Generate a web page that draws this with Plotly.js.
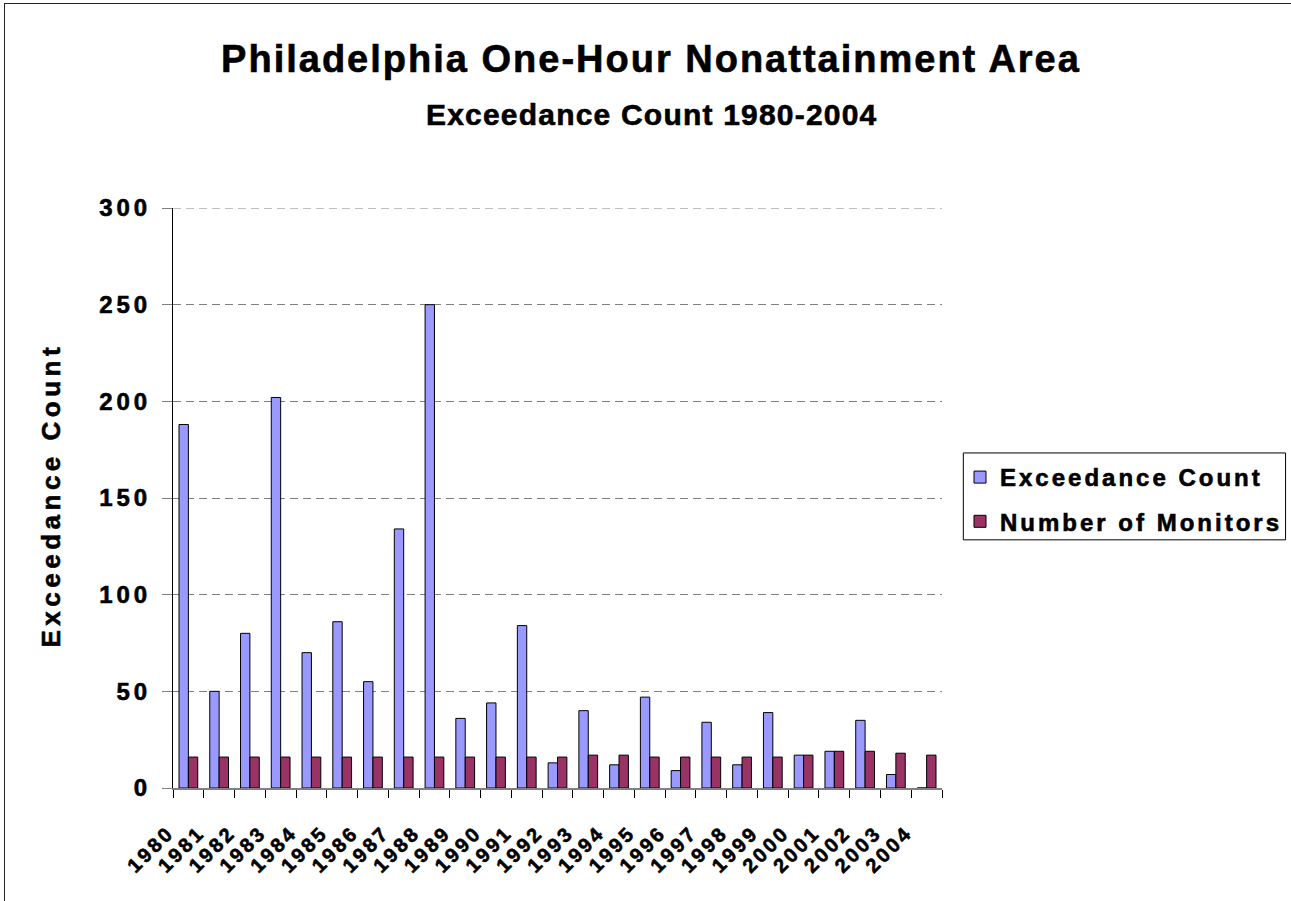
<!DOCTYPE html>
<html>
<head>
<meta charset="utf-8">
<script src="https://cdn.plot.ly/plotly-3.0.1.min.js"></script>
<style>
html,body{margin:0;padding:0;background:#fff;overflow:hidden;}
#chart{width:1291px;height:901px;position:absolute;left:0;top:0;}
#frame{position:absolute;left:4px;top:3px;width:1400px;height:1000px;border-left:1.5px solid #222;border-top:1.5px solid #222;pointer-events:none;}
#chart svg text{stroke:#000;stroke-width:0.6px;}
.xtick text{letter-spacing:3px;}
.ytick text{letter-spacing:4px;}
.legendtext{letter-spacing:3px;}
</style>
</head>
<body>
<div id="chart"></div>
<div id="frame"></div>
<script>
const years = ['1980','1981','1982','1983','1984','1985','1986','1987','1988','1989','1990','1991','1992',
               '1993','1994','1995','1996','1997','1998','1999','2000','2001','2002','2003','2004'];
const exceedanceCount = [188,50,80,202,70,86,55,134,250,36,44,84,13,40,12,47,9,34,12,39,17,19,35,7,0];
const numberOfMonitors = [16,16,16,16,16,16,16,16,16,16,16,16,16,17,17,16,16,16,16,16,17,19,19,18,17];
const yTicks = [0,50,100,150,200,250,300];
const seriesNames = ['Exceedance Count','Number of Monitors'];
const chartTitle = 'Philadelphia One-Hour Nonattainment Area';
const chartSubtitle = 'Exceedance Count 1980-2004';
const yAxisTitle = 'Exceedance Count';

const FONT = '"Liberation Sans", Arial, Helvetica, sans-serif';

const traces = [
  {type:'bar', name:seriesNames[0], x:years, y:exceedanceCount, legendgroup:'a',
   marker:{color:'#9999FF', line:{color:'#000', width:1}}, hoverinfo:'x+y'},
  {type:'bar', name:seriesNames[1], x:years, y:numberOfMonitors, legendgroup:'b',
   marker:{color:'#993366', line:{color:'#000', width:1}}, hoverinfo:'x+y'}
];

const L = 173.3, R = 941.7, T = 207.7, B = 788.5, W = 1291, H = 901;
const px2x = v => (v - L) / (R - L);
const px2y = v => (B - v) / (B - T);

const topGrid = yTicks[yTicks.length - 1];

const layout = {
  width:W, height:H,
  margin:{l:L, r:W-R, t:T, b:H-B, pad:0, autoexpand:false},
  paper_bgcolor:'#fff', plot_bgcolor:'#fff',
  font:{family:FONT, color:'#000'},
  showlegend:true,
  title:{
    text:'<span style="letter-spacing:2px">'+chartTitle+'</span>',
    font:{family:FONT, size:38, weight:700, color:'#000'},
    xref:'container', x:651/W, xanchor:'center',
    yref:'container', y:1-58.4/H, yanchor:'middle'
  },
  annotations:[
    {text:'<span style="letter-spacing:1.2px">'+chartSubtitle+'</span>', showarrow:false,
     xref:'paper', yref:'paper', x:px2x(651), y:px2y(114), xanchor:'center', yanchor:'middle',
     font:{family:FONT, size:30, weight:700, color:'#000'}},
    {text:'<span style="letter-spacing:4.5px">'+yAxisTitle+'</span>', showarrow:false, textangle:-90,
     xref:'paper', yref:'paper', x:px2x(51), y:px2y(495), xanchor:'center', yanchor:'middle',
     font:{family:FONT, size:26, weight:700, color:'#000'}}
  ],
  shapes:[
    {type:'line', xref:'paper', yref:'y', x0:0, x1:1, y0:topGrid, y1:topGrid,
     line:{color:'#808080', width:1, dash:'8px,5px'}, layer:'below'},
    {type:'rect', xref:'paper', yref:'paper', x0:px2x(963), x1:px2x(1285), y0:px2y(453), y1:px2y(540),
     line:{color:'#000', width:1}, fillcolor:'rgba(0,0,0,0)', layer:'above'}
  ],
  barmode:'group', bargap:0.39, bargroupgap:0,
  xaxis:{
    type:'category', range:[-0.5,24.5], fixedrange:true,
    showline:true, linecolor:'#808080', linewidth:2,
    ticks:'outside', tickson:'boundaries', ticklen:8, tickcolor:'#000', tickwidth:1,
    tickangle:-45, tickfont:{family:FONT, size:20, weight:700, color:'#000'},
    ticklabelshift:-20, ticklabelstandoff:23,
    showgrid:false, zeroline:false, automargin:false
  },
  yaxis:{
    range:[0,300], fixedrange:true, tickmode:'array', tickvals:yTicks,
    showline:true, linecolor:'#000', linewidth:1,
    ticks:'outside', ticklen:10, tickcolor:'#808080', tickwidth:1,
    tickfont:{family:FONT, size:24, weight:700, color:'#000'},
    ticklabelstandoff:6,
    showgrid:true, gridcolor:'#808080', gridwidth:1, griddash:'8px,5px',
    zeroline:false, automargin:false
  },
  legend:{
    xref:'container', x:960/W, xanchor:'left',
    yref:'container', y:1-455/H, yanchor:'top',
    bgcolor:'rgba(0,0,0,0)', borderwidth:0,
    font:{family:FONT, size:24, weight:700, color:'#000'},
    traceorder:'grouped', tracegroupgap:10
  }
};

Plotly.newPlot('chart', traces, layout, {displayModeBar:false, staticPlot:true});
</script>
</body>
</html>
